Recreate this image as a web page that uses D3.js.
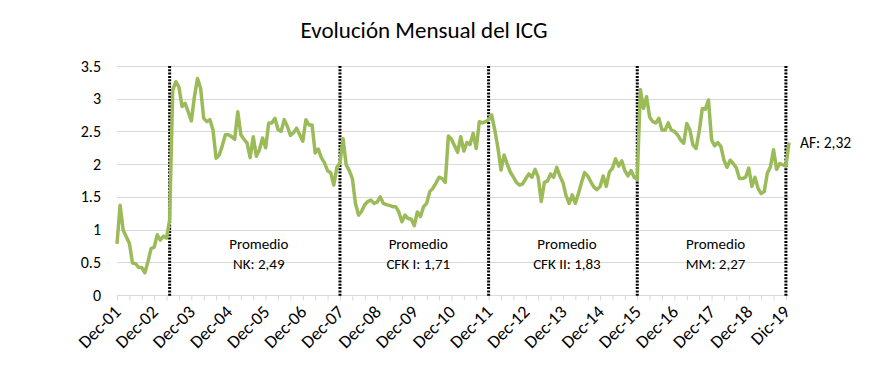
<!DOCTYPE html>
<html>
<head>
<meta charset="utf-8">
<script src="https://cdn.jsdelivr.net/npm/d3@7"></script>
<style>
  html, body { margin: 0; padding: 0; background: #fff; }
  svg { display: block; font-family: Carlito, Calibri, Lato, "Open Sans", sans-serif; }
</style>
</head>
<body>
<svg id="chart" width="880" height="375"></svg>
<script>
// ---- Data (monthly ICG, Dec-2001 .. Jan-2020) ----
const icgValues = [
  0.78,1.37,0.99,0.89,0.79,0.49,0.48,0.42,0.42,0.34,0.51,0.71,
  0.73,0.92,0.84,0.90,0.87,1.15,3.13,3.26,3.18,2.88,2.93,2.80,
  2.66,3.03,3.31,3.16,2.70,2.65,2.68,2.52,2.09,2.14,2.28,2.45,
  2.45,2.42,2.38,2.80,2.45,2.38,2.32,2.10,2.42,2.12,2.22,2.40,
  2.25,2.63,2.63,2.70,2.53,2.50,2.68,2.58,2.44,2.48,2.55,2.45,
  2.35,2.68,2.60,2.60,2.17,2.23,2.10,2.02,1.90,1.87,1.68,1.95,
  2.02,2.39,1.99,1.90,1.78,1.40,1.22,1.28,1.38,1.43,1.45,1.40,
  1.42,1.50,1.40,1.38,1.37,1.35,1.35,1.27,1.12,1.22,1.17,1.16,
  1.06,1.27,1.20,1.35,1.40,1.58,1.63,1.71,1.80,1.78,1.72,2.43,
  2.38,2.28,2.18,2.42,2.20,2.33,2.30,2.47,2.24,2.65,2.63,2.65,
  2.68,2.75,2.52,2.25,1.91,2.14,2.00,1.88,1.80,1.72,1.68,1.70,
  1.78,1.85,1.80,1.92,1.80,1.43,1.72,1.74,1.85,1.80,1.95,1.82,
  1.72,1.52,1.40,1.53,1.40,1.55,1.72,1.87,1.82,1.73,1.65,1.61,
  1.66,1.82,1.66,1.88,1.94,2.08,1.97,2.05,1.90,1.82,1.90,1.80,
  1.77,3.14,2.85,3.03,2.72,2.65,2.63,2.70,2.52,2.52,2.63,2.52,
  2.50,2.45,2.37,2.32,2.62,2.52,2.29,2.24,2.50,2.85,2.84,2.98,
  2.37,2.28,2.33,2.27,2.06,1.95,2.06,2.01,1.94,1.78,1.78,1.80,
  1.94,1.66,1.80,1.63,1.55,1.58,1.86,1.96,2.22,1.92,2.01,1.99,
  1.97,2.33
];
const yTicks = [0, 0.5, 1, 1.5, 2, 2.5, 3, 3.5];
const yTickLabels = ["0", "0.5", "1", "1.5", "2", "2.5", "3", "3.5"];
const xLabels = ["Dec-01","Dec-02","Dec-03","Dec-04","Dec-05","Dec-06","Dec-07","Dec-08","Dec-09","Dec-10",
                 "Dec-11","Dec-12","Dec-13","Dec-14","Dec-15","Dec-16","Dec-17","Dec-18","Dic-19"];
const periodStartMonths = [17, 72, 120, 168, 216];   // month index of each government change
const periodAverages = ["NK: 2,49", "CFK I: 1,71", "CFK II: 1,83", "MM: 2,27"];
const lastLabel = "AF: 2,32";
const title = "Evolución Mensual del ICG";

// ---- Layout ----
const svg = d3.select("#chart");
const x = d3.scaleLinear().domain([0, icgValues.length - 1]).range([117, 789]);
const y = d3.scaleLinear().domain([0, 3.5]).range([295, 66]);

// title
svg.append("text").attr("x", 424).attr("y", 38).attr("text-anchor", "middle")
  .attr("font-size", 23).attr("fill", "#000").text(title);

// gridlines
svg.append("g").selectAll("line").data(yTicks.filter(d => d > 0)).join("line")
  .attr("x1", x(0)).attr("x2", x(icgValues.length - 1))
  .attr("y1", d => Math.round(y(d)) + 0.5).attr("y2", d => Math.round(y(d)) + 0.5)
  .attr("stroke", "#d9d9d9").attr("stroke-width", 1);

// y axis labels
svg.append("g").selectAll("text").data(yTicks).join("text")
  .attr("x", 101).attr("y", d => y(d) + 5.5).attr("text-anchor", "end")
  .attr("font-size", 16).attr("fill", "#000").text((d, i) => yTickLabels[i]);

// x axis
const tickVals = d3.range(0, icgValues.length, 4);
const xAxis = d3.axisBottom(x).tickValues(tickVals).tickSize(5).tickFormat("");
const gx = svg.append("g").attr("transform", `translate(0,${Math.round(y(0)) + 0.5})`).call(xAxis);
gx.select(".domain").attr("stroke", "#d9d9d9").attr("d", `M${x(0)},0H${x(icgValues.length - 1)}`);
gx.selectAll(".tick line").attr("stroke", "#d9d9d9");

// x labels (every 12 months), rotated -45
svg.append("g").selectAll("text").data(xLabels).join("text")
  .attr("transform", (d, i) => `translate(${x(i * 12) + 5},${313}) rotate(-45)`)
  .attr("text-anchor", "end").attr("font-size", 18).attr("fill", "#000")
  .text(d => d);

// period separators
svg.append("g").selectAll("line").data(periodStartMonths).join("line")
  .attr("x1", d => x(d)).attr("x2", d => x(d))
  .attr("y1", y(3.5)).attr("y2", y(0) + 2)
  .attr("stroke", "#000").attr("stroke-width", 3).attr("stroke-dasharray", "2,1.3");

// line
const line = d3.line().x((d, i) => x(i)).y(d => y(d));
svg.append("path").datum(icgValues).attr("d", line)
  .attr("fill", "none").attr("stroke", "#9bbb59").attr("stroke-width", 3.5)
  .attr("stroke-linejoin", "round");

// period averages
const ann = svg.append("g").attr("font-size", 15).attr("fill", "#000").attr("text-anchor", "middle");
periodAverages.forEach((lab, i) => {
  const cx = (x(periodStartMonths[i]) + x(periodStartMonths[i + 1])) / 2 + 4;
  const t = ann.append("text").attr("x", cx).attr("y", y(0.7));
  t.append("tspan").attr("x", cx).attr("dy", 0).text("Promedio");
  t.append("tspan").attr("x", cx).attr("dy", 20).text(lab);
});
svg.append("text").attr("x", x(icgValues.length - 1) + 11).attr("y", y(2.32) + 5)
  .attr("font-size", 15.5).attr("fill", "#000").text(lastLabel);
</script>
</body>
</html>
